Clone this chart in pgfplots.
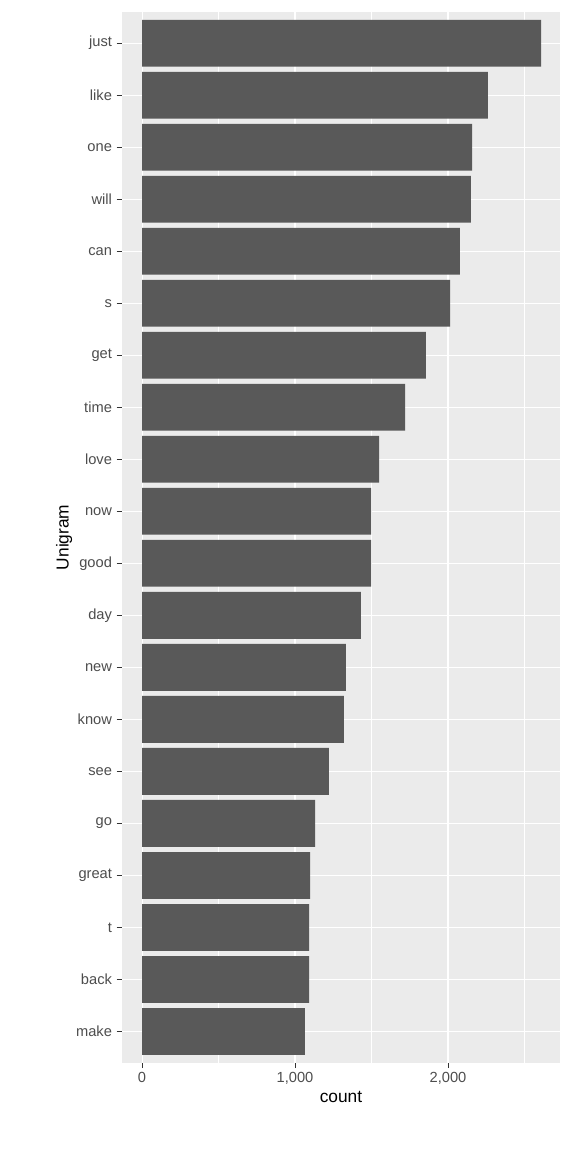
\documentclass[border=0pt]{standalone}
\usepackage{pgfplots}
\pgfplotsset{compat=1.18}
\usepackage{fontspec}
\setmainfont{Liberation Sans}
\usetikzlibrary{calc}
\definecolor{panel}{HTML}{EBEBEB}
\definecolor{bar}{HTML}{595959}
\definecolor{tick}{HTML}{4D4D4D}
\definecolor{tk}{HTML}{333333}
\begin{document}
\begin{tikzpicture}
\begin{axis}[name=ax,
  width=328.5pt, height=788pt, scale only axis,
  xbar, bar width=0.9, bar shift=0pt,
  xmin=-131, xmax=2732, ymin=-0.6, ymax=19.6,
  ytick={0,...,19},
  yticklabels={make,back,t,great,go,see,know,new,day,good,now,love,time,get,s,can,will,one,like,just},
  xtick={0,1000,2000}, minor xtick={500,1500,2500},
  /pgf/number format/assume math mode=true,
  scaled x ticks=false,
  xticklabel style={font=\fontsize{11}{13}\selectfont, text=tick},
  yticklabel style={font=\fontsize{11}{13}\selectfont, text=tick},
  axis background/.style={fill=panel},
  axis line style={draw=none},
  grid=both,
  major grid style={white, line width=0.8pt},
  minor grid style={white, line width=0.4pt},
  tick style={tk, line width=0.6pt},
  major tick length=4pt, minor tick length=0pt,
  tick align=outside, xtick pos=bottom, ytick pos=left,
  xlabel={count}, ylabel={Unigram},
  label style={font=\fontsize{13}{15}\selectfont},
  xlabel style={yshift=2pt},
  ylabel style={yshift=-4pt},
]
\addplot[fill=bar, draw=none] coordinates {
(1065,0) (1092,1) (1092,2) (1098,3) (1131,4) (1222,5) (1320,6) (1333,7) (1431,8) (1497,9) (1497,10) (1549,11) (1719,12) (1856,13) (2013,14) (2078,15) (2150,16) (2157,17) (2261,18) (2608,19)};
\end{axis}
\path ($(ax.south west)+(-91.5pt,-67pt)$) rectangle ($(ax.north east)+(12pt,9pt)$);
\end{tikzpicture}
\end{document}
